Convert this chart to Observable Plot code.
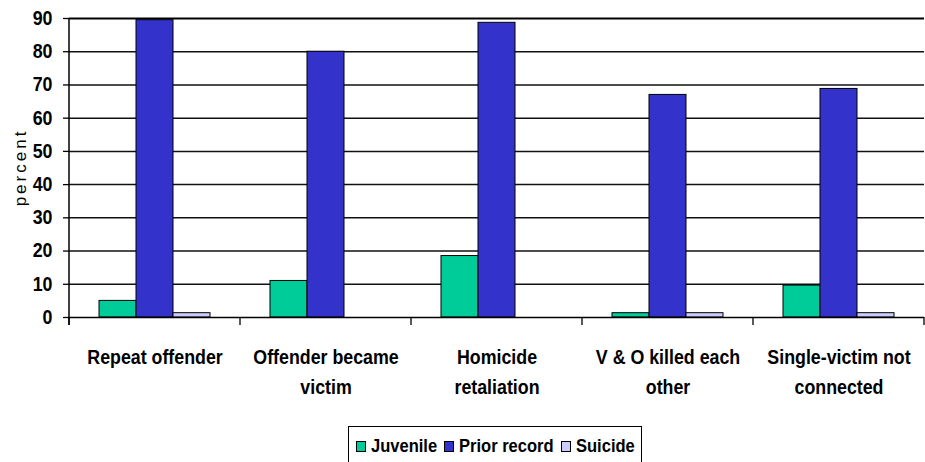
<!DOCTYPE html>
<html>
<head>
<meta charset="utf-8">
<script src="https://cdn.jsdelivr.net/npm/d3@7"></script>
<script src="https://cdn.jsdelivr.net/npm/@observablehq/plot@0.6"></script>
<style>
  html, body { margin: 0; padding: 0; background: #fff; overflow: hidden; }
  #wrap { position: relative; width: 925px; height: 462px; font-family: "Liberation Sans", Arial, sans-serif; }
  #legend { position: absolute; left: 348px; top: 426px; width: 294px; height: 60px; border: 1px solid #000; box-sizing: border-box;
            font-weight: bold; font-size: 19px; white-space: nowrap; padding-left: 7px; padding-top: 9px; line-height: 20px; }
  #legend .sw { display: inline-block; width: 8px; height: 9px; border: 1px solid #000; margin-right: 5px; vertical-align: 0px; }
  #legend .tx { display: inline-block; transform-origin: 0 50%; }
</style>
</head>
<body>
<div id="wrap"><div id="chart"></div><div id="legend"></div></div>
<script>
const categories = ["Repeat offender", "Offender became victim", "Homicide retaliation", "V & O killed each other", "Single-victim not connected"];
const categoryLabels = ["Repeat offender", "Offender became\nvictim", "Homicide\nretaliation", "V & O killed each\nother", "Single-victim not\nconnected"];
const series = ["Juvenile", "Prior record", "Suicide"];
const colors = ["#00CC99", "#3333CC", "#CCCCFF"];
const juvenile = [5.0, 11.0, 18.5, 1.3, 9.6];
const priorRecord = [89.5, 80.0, 88.7, 67.0, 68.8];
const suicide = [1.3, 0, 0, 1.3, 1.3];
const yTicks = [0, 10, 20, 30, 40, 50, 60, 70, 80, 90];

const seriesValues = [juvenile, priorRecord, suicide];
const data = [];
categories.forEach((c, i) => series.forEach((s, j) => data.push({category: c, series: s, value: seriesValues[j][i]})));
const labelOf = new Map(categories.map((c, i) => [c, categoryLabels[i]]));
const FONT = "'Liberation Sans', Arial, sans-serif";
const SQUEEZE = 0.89;
const SQUEEZE_LEGEND = 0.87;

const plot = Plot.plot({
  width: 925,
  height: 415,
  marginLeft: 68,
  marginRight: 0,
  marginTop: 18,
  marginBottom: 98,
  style: {fontFamily: FONT, color: "#000", background: "#fff", overflow: "visible"},
  fx: {domain: categories, padding: 0, label: null},
  x: {domain: series, paddingInner: 0, paddingOuter: 0.755, axis: null},
  y: {domain: [0, 90], label: null},
  color: {domain: series, range: colors},
  marks: [
    Plot.ruleY(yTicks.filter(v => v > 0 && v < 90), {stroke: "#111", strokeWidth: 1.5}),
    Plot.ruleY([90], {stroke: "#000", strokeWidth: 2}),
    Plot.barY(data.filter(d => d.value > 0), {fx: "category", x: "series", y: "value", fill: "series", stroke: "#000", strokeWidth: 1, inset: 0}),
    Plot.ruleY([0], {stroke: "#000", strokeWidth: 1.5}),
    Plot.axisY({ticks: yTicks, tickSize: 6, tickPadding: 11, fontSize: 20, fontWeight: "bold", label: null, stroke: "#000", strokeWidth: 1.3}),
    Plot.axisFx({anchor: "bottom", tickSize: 0, tickPadding: 25, fontSize: 20, fontWeight: "bold", lineHeight: 1.5, tickFormat: d => labelOf.get(d), label: null})
  ]
});
document.getElementById("chart").appendChild(plot);

const svg = d3.select(plot);
// horizontally condense the bold labels, as in the original (narrow Arial rendering)
svg.selectAll('g[aria-label="fx-axis tick label"] text, g[aria-label="y-axis tick label"] text').each(function() {
  const t = d3.select(this);
  const tr = t.attr("transform");
  if (tr) t.attr("transform", tr + ` scale(${SQUEEZE},1)`);
  else {
    const x = +t.attr("x") || 0, yy = +t.attr("y") || 0;
    t.attr("x", null).attr("y", null).attr("transform", `translate(${x},${yy}) scale(${SQUEEZE},1)`);
  }
});

// y-axis line, category boundary ticks, y label
const fx = plot.scale("fx");
const y = plot.scale("y");
const y0 = y.apply(0), yTop = y.apply(90);
const left = fx.apply(categories[0]);
const bounds = categories.map(c => fx.apply(c)).concat([fx.apply(categories[categories.length - 1]) + fx.bandwidth]);
const g = svg.append("g");
g.append("line").attr("x1", left).attr("x2", left).attr("y1", yTop).attr("y2", y0 + 8).attr("stroke", "#000").attr("stroke-width", 1.5);
bounds.forEach(b => g.append("line").attr("x1", b).attr("x2", b).attr("y1", y0).attr("y2", y0 + 8).attr("stroke", "#000").attr("stroke-width", 1.3));
g.append("text").attr("transform", `translate(26,${(y0 + yTop) / 2}) rotate(-90)`).attr("text-anchor", "middle")
  .attr("font-family", FONT)
  .attr("font-size", 17).attr("letter-spacing", "3px").attr("fill", "#000").text("percent");

// legend
const legend = d3.select("#legend");
series.forEach((s, i) => {
  legend.append("span").attr("class", "sw").style("background", colors[i]);
  const tx = legend.append("span").attr("class", "tx").text(s);
  const w = tx.node().getBoundingClientRect().width;
  tx.style("transform", `scaleX(${SQUEEZE_LEGEND})`).style("margin-right", `${-(w * (1 - SQUEEZE_LEGEND)) + 7}px`);
});
</script>
</body>
</html>
